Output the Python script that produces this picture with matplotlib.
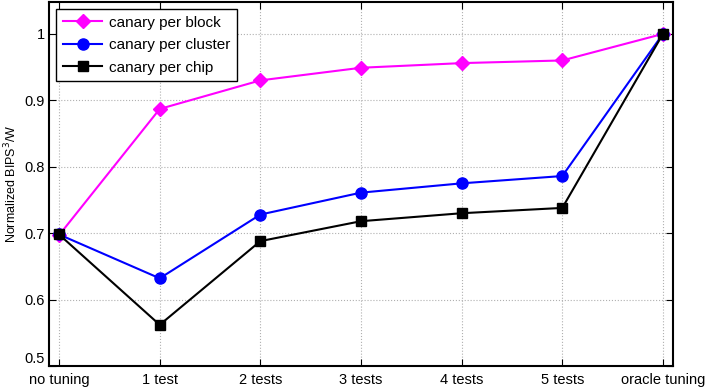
import numpy as np
import matplotlib
matplotlib.use("Agg")
import matplotlib.pyplot as plt

labels = ["no tuning", "1 test", "2 tests", "3 tests", "4 tests", "5 tests", "oracle tuning"]
block = [0.697, 0.887, 0.930, 0.949, 0.956, 0.960, 1.0]
cluster = [0.698, 0.632, 0.728, 0.761, 0.775, 0.786, 1.0]
chip = [0.698, 0.562, 0.688, 0.718, 0.730, 0.738, 1.0]

plt.rcParams['font.family'] = ['Liberation Sans', 'DejaVu Sans']

fig = plt.figure(figsize=(7.08, 3.89), dpi=100)
ax = fig.add_axes([49/708, 23/389, 624/708, 364/389])
x = np.arange(len(labels))

ax.plot(x, block, color='magenta', marker='D', markersize=7, lw=1.5, label='canary per block')
ax.plot(x, cluster, color='blue', marker='o', markersize=8, lw=1.5, label='canary per cluster')
ax.plot(x, chip, color='black', marker='s', markersize=7, lw=1.5, label='canary per chip')

ax.set_xlim(-0.1, 6.1)
ax.set_ylim(0.5, 1.048)
ax.set_xticks(x)
ax.set_xticklabels(labels, fontsize=10.5)
ax.set_yticks([0.5, 0.6, 0.7, 0.8, 0.9, 1.0])
ax.set_yticklabels(['0.5', '0.6', '0.7', '0.8', '0.9', '1'], fontsize=10.5)
ax.tick_params(direction='in', top=True, right=True, length=5)
ax.tick_params(axis='x', pad=5)
ax.tick_params(axis='y', pad=3)
ax.get_yticklabels()[0].set_verticalalignment('bottom')
ax.grid(True, color='#b0b0b0', linestyle=':', lw=0.8)
for s in ax.spines.values():
    s.set_linewidth(1.5)
ax.set_ylabel('Normalized BIPS$^3$/W', fontsize=9, labelpad=4)

leg = ax.legend(loc='upper left', fontsize=11, fancybox=False, framealpha=1,
                edgecolor='black', borderaxespad=0.45, handlelength=2.6,
                labelspacing=0.55, borderpad=0.45, handletextpad=0.4)
leg.get_frame().set_linewidth(1.0)

fig.savefig('out.png', dpi=100)
